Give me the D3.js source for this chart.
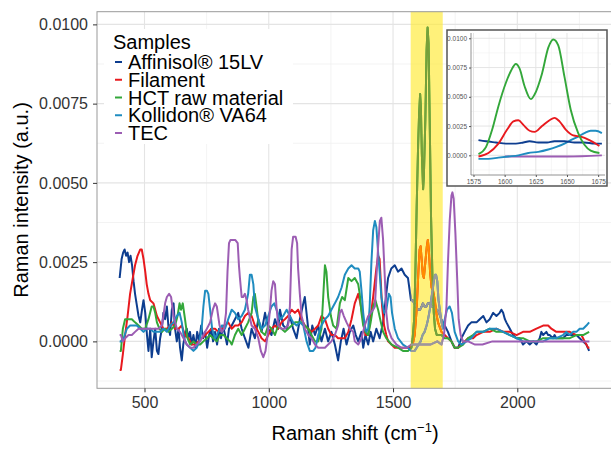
<!DOCTYPE html>
<head>
  <meta charset="utf-8">
  <script src="https://d3js.org/d3.v7.min.js"></script>
  <style>
    body { margin:0; background:#fff; }
    text { font-family: "Liberation Sans", Arial, sans-serif; }
  </style>
</head>
<body>
<script>

// intensities are in units of 1e-4 (a.u.)
var sampleNames = ["Affinisol\u00ae 15LV", "Filament", "HCT raw material", "Kollidon\u00ae VA64", "TEC"];
var sampleColors = ["#0d3d8f", "#e8191e", "#33a73a", "#1f8cc0", "#9c5db3"];
var bandColors = ["#9a9a9a", "#ff8c00", "#78a03a", "#9a9a9a", "#9a9a9a"];

var affinisol = [[400,20],[408,26],[414,28],[420,29],[426,27],[432,28],[438,25],[444,27],[450,24],[456,19],[462,15],[468,12],[476,8],[483,6],[490,10],[496,13],[503,9],[510,2],[516,-3],[523,4],[529,-5],[536,0],[543,4],[550,-3],[556,-4],[563,1],[570,4],[576,9],[583,7],[590,11],[596,5],[603,2],[610,10],[617,12],[623,4],[630,0],[637,4],[643,-2],[650,-6],[656,-1],[663,2],[670,4],[676,1],[683,3],[690,-1],[697,2],[705,-2],[712,3],[720,0],[728,5],[736,1],[744,3],[752,-2],[760,2],[768,4],[776,0],[784,3],[792,-1],[800,4],[808,1],[816,5],[824,2],[832,-1],[840,4],[851,5],[864,7],[877,9],[891,4],[904,1],[918,-2],[931,4],[944,1],[958,7],[971,3],[985,9],[998,4],[1011,2],[1025,7],[1038,4],[1045,10],[1058,5],[1072,4],[1085,8],[1098,4],[1112,1],[1125,7],[1139,12],[1145,14],[1156,6],[1165,-1],[1175,5],[1186,2],[1199,5],[1212,0],[1226,4],[1239,0],[1252,3],[1266,-1],[1279,-6],[1290,0],[1301,4],[1313,-1],[1326,3],[1340,5],[1350,2],[1360,0],[1373,3],[1380,-2],[1389,2],[1400,-1],[1410,3],[1420,0],[1433,4],[1446,1],[1460,6],[1470,13],[1480,20],[1493,23],[1507,24],[1520,22],[1534,23],[1547,21],[1560,20],[1567,16],[1572,13],[1579,13],[1585,12],[1593,11],[1601,10],[1609,10],[1615,11],[1620,12],[1627,11],[1634,11],[1640,12],[1648,12],[1656,11],[1664,11],[1672,10],[1678,10],[1685,9],[1694,7],[1708,5],[1721,3],[1735,0],[1748,-2],[1762,-2],[1775,1],[1788,3],[1802,5],[1815,6],[1836,6],[1849,7],[1863,8],[1876,6],[1889,7],[1903,9],[1916,8],[1929,9],[1936,10],[1943,9],[1950,7],[1956,6],[1970,4],[1983,2],[1996,1],[2010,1],[2023,-1],[2037,0],[2050,-1],[2064,0],[2077,-1],[2090,1],[2097,3],[2104,2],[2117,3],[2124,2],[2130,2],[2144,1],[2150,2],[2157,1],[2171,1],[2184,1],[2197,2],[2211,2],[2224,2],[2238,2],[2251,1],[2264,0],[2278,-1],[2289,-3]];

var filament = [[400,-9],[405,-9],[413,-4],[422,2],[432,8],[442,15],[453,20],[462,24],[472,27],[483,29],[489,29],[496,26],[503,22],[509,18],[516,15],[523,13],[536,12],[550,8],[563,6],[576,4],[590,4],[603,5],[610,6],[623,4],[637,4],[650,5],[663,2],[677,1],[690,-1],[704,-1],[717,0],[730,1],[744,2],[757,3],[770,4],[784,4],[797,3],[811,4],[824,5],[837,6],[851,4],[864,5],[877,5],[891,6],[904,8],[917,9],[931,8],[944,5],[958,3],[971,1],[985,0],[998,2],[1011,4],[1025,5],[1038,4],[1051,6],[1065,7],[1078,8],[1092,10],[1105,9],[1118,10],[1132,7],[1145,5],[1159,4],[1172,3],[1186,4],[1199,5],[1212,8],[1226,7],[1239,4],[1252,2],[1266,2],[1279,1],[1293,1],[1306,1],[1320,3],[1333,7],[1346,12],[1360,15],[1366,13],[1380,7],[1389,2],[1400,2],[1410,8],[1420,14],[1433,23],[1440,27],[1446,26],[1450,20],[1456,11],[1464,5],[1473,2],[1480,0],[1494,-1],[1507,-2],[1527,-2],[1547,-2],[1567,-2],[1574,-1],[1579,-1],[1587,2],[1595,10],[1602,22],[1607,29],[1611,30],[1615,26],[1620,21],[1624,20],[1630,25],[1636,30],[1640,32],[1644,29],[1649,22],[1655,17],[1661,16],[1668,13],[1676,8],[1681,6],[1695,3],[1708,2],[1721,1],[1735,0],[1748,-2],[1762,-2],[1775,-1],[1788,0],[1802,1],[1822,1],[1836,2],[1863,3],[1889,3],[1916,4],[1943,3],[1970,3],[1997,2],[2023,3],[2050,3],[2077,4],[2104,5],[2124,5],[2137,4],[2157,3],[2184,3],[2211,3],[2238,2],[2258,2],[2271,0],[2285,-2],[2290,-2]];

var hct = [[400,-3],[405,-3],[413,4],[422,7],[436,7],[449,7],[462,6],[476,5],[489,4],[503,4],[516,7],[529,11],[536,11],[543,9],[550,6],[560,4],[570,3],[583,4],[596,3],[610,4],[623,5],[633,8],[641,12],[647,10],[654,12],[663,7],[673,1],[684,-1],[697,0],[710,-1],[724,-1],[737,0],[751,1],[764,2],[777,1],[791,0],[804,2],[818,2],[831,1],[844,0],[851,-1],[864,2],[877,4],[891,2],[904,4],[917,6],[931,9],[938,14],[944,15],[951,11],[958,6],[971,3],[985,2],[998,5],[1011,4],[1025,2],[1038,5],[1051,4],[1065,3],[1078,4],[1092,5],[1105,6],[1118,6],[1132,6],[1145,5],[1159,4],[1172,2],[1186,0],[1199,0],[1212,4],[1219,14],[1226,24],[1232,22],[1239,14],[1250,8],[1259,5],[1273,4],[1286,12],[1295,14],[1306,13],[1320,20],[1333,19],[1346,20],[1360,18],[1366,15],[1373,9],[1380,5],[1389,3],[1400,2],[1410,6],[1420,11],[1429,13],[1440,10],[1451,6],[1460,3],[1473,1],[1494,-1],[1520,-2],[1540,-3],[1560,-3],[1574,-2],[1579,1],[1585,7],[1590,22],[1595,42],[1601,62],[1605,72],[1609,78],[1612,74],[1616,59],[1621,48],[1624,52],[1630,70],[1635,92],[1639,99],[1643,94],[1648,67],[1653,39],[1659,19],[1664,9],[1669,4],[1676,2],[1681,2],[1695,2],[1708,1],[1721,1],[1735,0],[1748,-2],[1762,-2],[1782,-1],[1802,1],[1822,2],[1836,3],[1863,3],[1889,4],[1916,3],[1943,3],[1970,2],[1997,1],[2023,1],[2050,0],[2077,0],[2104,1],[2130,1],[2157,1],[2184,1],[2211,1],[2238,2],[2265,2],[2289,3]];

var kollidon = [[400,0],[405,0],[416,1],[429,4],[442,5],[456,5],[469,5],[483,4],[496,3],[509,4],[523,4],[536,3],[550,3],[563,3],[576,4],[590,3],[603,5],[617,6],[630,8],[641,9],[650,6],[659,1],[670,-1],[684,-2],[697,-3],[710,-2],[721,0],[730,4],[737,11],[744,16],[751,16],[757,15],[764,10],[772,4],[784,1],[797,3],[811,5],[824,4],[837,7],[851,10],[864,9],[877,7],[891,8],[904,10],[917,15],[924,21],[931,21],[938,18],[944,11],[958,7],[971,4],[985,5],[998,8],[1011,11],[1022,12],[1031,10],[1045,7],[1058,8],[1072,10],[1085,8],[1098,6],[1112,5],[1125,6],[1139,5],[1152,0],[1165,-3],[1179,-3],[1188,-2],[1199,2],[1212,5],[1226,7],[1239,8],[1252,10],[1266,12],[1279,14],[1293,17],[1306,21],[1320,23],[1333,24],[1346,23],[1360,23],[1366,22],[1373,16],[1380,9],[1386,5],[1393,3],[1400,4],[1406,11],[1413,25],[1420,35],[1427,38],[1433,36],[1440,28],[1446,22],[1453,14],[1464,9],[1473,10],[1483,15],[1490,14],[1496,9],[1507,4],[1520,1],[1540,-1],[1560,-2],[1574,-3],[1579,-3],[1587,-3],[1595,-2],[1603,-1],[1611,0],[1619,2],[1627,3],[1635,5],[1641,7],[1648,10],[1653,13],[1659,16],[1664,19],[1669,21],[1673,21],[1678,19],[1683,13],[1695,6],[1701,4],[1708,7],[1717,10],[1728,11],[1737,9],[1748,3],[1762,0],[1775,-1],[1795,0],[1815,1],[1836,3],[1863,3],[1889,4],[1916,4],[1943,3],[1970,2],[1997,1],[2023,0],[2050,0],[2077,0],[2104,0],[2130,1],[2157,1],[2184,2],[2197,3],[2211,2],[2224,3],[2238,3],[2251,4],[2265,4],[2278,5],[2289,6]];

var tec = [[400,2],[405,2],[413,0],[422,1],[436,2],[449,2],[462,3],[476,4],[489,4],[503,4],[516,4],[529,4],[543,4],[556,4],[570,5],[576,8],[583,12],[590,14],[599,15],[607,14],[617,8],[630,4],[643,3],[657,1],[670,-1],[684,-2],[697,-2],[710,-1],[724,0],[737,2],[751,4],[764,6],[775,10],[784,12],[791,11],[802,5],[811,3],[820,4],[828,9],[834,22],[840,31],[846,32],[855,32],[865,32],[875,31],[880,24],[884,20],[891,14],[897,14],[904,15],[911,13],[917,10],[931,5],[944,4],[958,1],[968,-3],[978,-5],[987,-3],[995,2],[1005,10],[1011,16],[1018,19],[1025,18],[1031,11],[1038,5],[1051,4],[1065,4],[1078,5],[1085,11],[1092,29],[1098,33],[1108,33],[1114,31],[1118,23],[1125,15],[1132,8],[1145,4],[1159,2],[1172,1],[1186,-1],[1199,-2],[1212,-2],[1226,-2],[1239,-1],[1252,0],[1266,2],[1279,5],[1286,9],[1293,10],[1302,8],[1313,6],[1326,4],[1340,3],[1346,0],[1360,-1],[1373,1],[1386,5],[1400,8],[1410,9],[1420,10],[1427,11],[1433,20],[1440,30],[1447,38],[1453,39],[1460,32],[1467,20],[1473,9],[1480,4],[1494,1],[1514,-1],[1534,-2],[1554,-2],[1574,-1],[1600,-1],[1625,-1],[1650,-1],[1678,0],[1695,-1],[1705,2],[1715,11],[1721,25],[1728,38],[1735,46],[1739,47],[1744,45],[1751,34],[1758,20],[1764,7],[1772,2],[1782,0],[1802,0],[1830,-1],[1860,-1],[1900,0],[1950,0],[2000,0],[2100,0],[2200,0],[2250,0],[2290,0]];

var allSeries = [affinisol, filament, hct, kollidon, tec];

var xTicks = [500, 1000, 1500, 2000];
var xMinor = [750, 1250, 1750, 2250];
var yTicks = [0, 25, 50, 75, 100];
var yMinor = [-12.5, 12.5, 37.5, 62.5, 87.5];
var band = [1571, 1700];

var insetXTicks = [1575, 1600, 1625, 1650, 1675];
var insetXMinor = [1587.5, 1612.5, 1637.5, 1662.5];
var insetRange = [1576, 1680];

var fmt = function(v){ return (v / 10000).toFixed(4) };

var width = 611, height = 450;
var pLeft = 97, pRight = 612, pTop = 11.7, pBottom = 388.3;

var svg = d3.select("body").append("svg")
  .attr("width", width)
  .attr("height", height)

var x = d3.scaleLinear().domain([308.9, 2381]).range([pLeft, pRight]);
var y = d3.scaleLinear().domain([-14.8, 104]).range([pBottom, pTop]);

svg.append("rect").attr("x", pLeft).attr("y", pTop)
  .attr("width", pRight - pLeft).attr("height", pBottom - pTop).attr("fill", "#fff");

var defs = svg.append("defs");
defs.append("clipPath").attr("id", "panelClip").append("rect")
  .attr("x", pLeft).attr("y", pTop).attr("width", pRight - pLeft).attr("height", pBottom - pTop);
defs.append("clipPath").attr("id", "bandClip").append("rect")
  .attr("x", x(band[0])).attr("y", pTop).attr("width", x(band[1]) - x(band[0])).attr("height", pBottom - pTop);

// grid
var grid = svg.append("g");
grid.selectAll(".xminor").data(xMinor).enter().append("line")
  .attr("x1", x).attr("x2", x).attr("y1", pTop).attr("y2", pBottom)
  .attr("stroke", "#eeeeee").attr("stroke-width", 0.7);
grid.selectAll(".yminor").data(yMinor).enter().append("line")
  .attr("y1", y).attr("y2", y).attr("x1", pLeft).attr("x2", pRight)
  .attr("stroke", "#eeeeee").attr("stroke-width", 0.7);
grid.selectAll(".xmajor").data(xTicks).enter().append("line")
  .attr("x1", x).attr("x2", x).attr("y1", pTop).attr("y2", pBottom)
  .attr("stroke", "#e4e4e4").attr("stroke-width", 1.1);
grid.selectAll(".ymajor").data(yTicks).enter().append("line")
  .attr("y1", y).attr("y2", y).attr("x1", pLeft).attr("x2", pRight)
  .attr("stroke", "#e4e4e4").attr("stroke-width", 1.1);

// highlighted band
svg.append("rect")
  .attr("x", x(band[0])).attr("y", pTop)
  .attr("width", x(band[1]) - x(band[0])).attr("height", pBottom - pTop)
  .attr("fill", "#ffeb3b").attr("opacity", 0.68);

var line = d3.line()
  .x(function(d){ return x(d[0]) })
  .y(function(d){ return y(d[1]) });

var lines = svg.append("g").attr("clip-path", "url(#panelClip)");
lines.selectAll("path").data(allSeries).enter().append("path")
  .attr("d", line)
  .attr("fill", "none")
  .attr("stroke", function(d, i){ return sampleColors[i] })
  .attr("stroke-width", 2)
  .attr("stroke-linejoin", "round");

var bandLines = svg.append("g").attr("clip-path", "url(#bandClip)");
bandLines.selectAll("path").data(allSeries).enter().append("path")
  .attr("d", line)
  .attr("fill", "none")
  .attr("stroke", function(d, i){ return bandColors[i] })
  .attr("stroke-width", 2)
  .attr("stroke-linejoin", "round");

// panel border
svg.append("rect").attr("x", pLeft).attr("y", pTop)
  .attr("width", pRight - pLeft).attr("height", pBottom - pTop)
  .attr("fill", "none").attr("stroke", "#9a9a9a").attr("stroke-width", 1);

// axes
var xAxis = svg.append("g").attr("transform", "translate(0," + pBottom + ")")
  .call(d3.axisBottom(x).tickValues(xTicks).tickFormat(d3.format("d")).tickSize(4).tickPadding(4));
var yAxis = svg.append("g").attr("transform", "translate(" + pLeft + ",0)")
  .call(d3.axisLeft(y).tickValues(yTicks).tickFormat(fmt).tickSize(4).tickPadding(5));
[xAxis, yAxis].forEach(function(a){
  a.select(".domain").remove();
  a.selectAll("line").attr("stroke", "#333");
  a.selectAll("text").attr("fill", "#333").style("font-size", "16px")
    .style("font-family", '"Liberation Sans", Arial, sans-serif');
});

var xt = svg.append("text")
  .attr("x", 355).attr("y", 440)
  .attr("text-anchor", "middle")
  .style("font-size", "20px").attr("fill", "#000");
xt.append("tspan").text("Raman shift (cm");
xt.append("tspan").attr("dy", -8).style("font-size", "13px").text("\u22121");
xt.append("tspan").attr("dy", 8).text(")");

svg.append("text")
  .attr("transform", "translate(28,200) rotate(-90)")
  .attr("text-anchor", "middle")
  .style("font-size", "20px").attr("fill", "#000")
  .text("Raman intensity (a.u.)");

// legend
var legend = svg.append("g");
legend.append("rect").attr("x", 104).attr("y", 29).attr("width", 189).attr("height", 115).attr("fill", "#fff");
legend.append("text").attr("x", 113).attr("y", 48.5).style("font-size", "20px").text("Samples");
var rows = legend.selectAll(".row").data(sampleNames).enter().append("g")
  .attr("transform", function(d, i){ return "translate(0," + (69 + i * 17.75) + ")" });
rows.append("line").attr("x1", 115).attr("x2", 122).attr("y1", -7).attr("y2", -7)
  .attr("stroke", function(d, i){ return sampleColors[i] }).attr("stroke-width", 2);
rows.append("text").attr("x", 128).attr("y", 0).style("font-size", "20px").text(function(d){ return d });

// inset
var inset = svg.append("g");
inset.append("rect").attr("x", 447).attr("y", 30).attr("width", 160).attr("height", 156)
  .attr("fill", "#fff").attr("stroke", "#555").attr("stroke-width", 1.5);

var il = 471, ir = 605, it = 33, ib = 175;
var ix = d3.scaleLinear().domain([1573, 1680.5]).range([il, ir]);
var iy = d3.scaleLinear().domain([-16.8, 104.5]).range([ib, it]);

inset.selectAll(".ixminor").data(insetXMinor).enter().append("line")
  .attr("x1", ix).attr("x2", ix).attr("y1", it).attr("y2", ib)
  .attr("stroke", "#f0f0f0").attr("stroke-width", 0.6);
inset.selectAll(".iyminor").data(yMinor).enter().append("line")
  .attr("y1", iy).attr("y2", iy).attr("x1", il).attr("x2", ir)
  .attr("stroke", "#f0f0f0").attr("stroke-width", 0.6);
inset.selectAll(".ixmajor").data(insetXTicks).enter().append("line")
  .attr("x1", ix).attr("x2", ix).attr("y1", it).attr("y2", ib)
  .attr("stroke", "#e2e2e2").attr("stroke-width", 0.9);
inset.selectAll(".iymajor").data(yTicks).enter().append("line")
  .attr("y1", iy).attr("y2", iy).attr("x1", il).attr("x2", ir)
  .attr("stroke", "#e2e2e2").attr("stroke-width", 0.9);

var iline = d3.line()
  .x(function(d){ return ix(d[0]) })
  .y(function(d){ return iy(d[1]) })
  .curve(d3.curveMonotoneX);

var order = [4, 3, 0, 1, 2];
inset.selectAll(".iline").data(order).enter().append("path")
  .attr("d", function(i){
    return iline(allSeries[i].filter(function(p){ return p[0] >= insetRange[0] && p[0] <= insetRange[1] }));
  })
  .attr("fill", "none")
  .attr("stroke", function(i){ return sampleColors[i] })
  .attr("stroke-width", 1.9);

inset.append("line").attr("x1", il).attr("x2", il).attr("y1", it).attr("y2", ib).attr("stroke", "#777").attr("stroke-width", 0.8);
inset.append("line").attr("x1", il).attr("x2", ir).attr("y1", ib).attr("y2", ib).attr("stroke", "#777").attr("stroke-width", 0.8);

var ixAxis = inset.append("g").attr("transform", "translate(0," + ib + ")")
  .call(d3.axisBottom(ix).tickValues(insetXTicks).tickFormat(d3.format("d")).tickSize(2).tickPadding(2));
var iyAxis = inset.append("g").attr("transform", "translate(" + il + ",0)")
  .call(d3.axisLeft(iy).tickValues(yTicks).tickFormat(fmt).tickSize(2).tickPadding(2));
[ixAxis, iyAxis].forEach(function(a){
  a.select(".domain").remove();
  a.selectAll("line").attr("stroke", "#555");
  a.selectAll("text").attr("fill", "#555").style("font-size", "6.5px")
    .style("font-family", '"Liberation Sans", Arial, sans-serif');
});

</script>
</body>
